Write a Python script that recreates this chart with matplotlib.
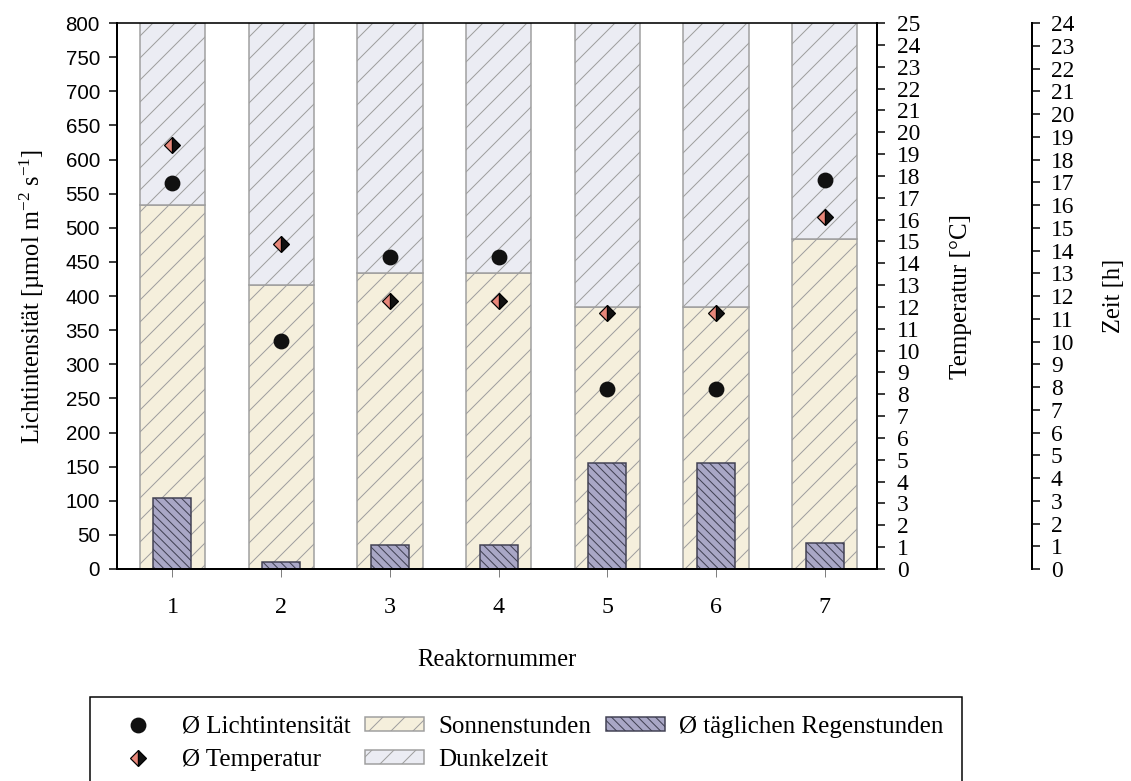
import matplotlib
matplotlib.use('Agg')
import matplotlib.pyplot as plt
import numpy as np

DPI = 132


def px(v):
    # pixel -> points at the chosen dpi
    return v * 72.0 / DPI


reaktor = [1, 2, 3, 4, 5, 6, 7]
sonnenstunden = [16.0, 12.5, 13.0, 13.0, 11.5, 11.5, 14.5]
dunkelzeit = [8.0, 11.5, 11.0, 11.0, 12.5, 12.5, 9.5]
regenstunden = [3.1, 0.3, 1.05, 1.05, 4.65, 4.65, 1.15]
licht = [565, 334, 457, 457, 264, 264, 570]
temperatur = [19.4, 14.9, 12.25, 12.25, 11.7, 11.7, 16.1]

plt.rcParams['font.family'] = ['Liberation Serif', 'DejaVu Serif']
plt.rcParams['mathtext.fontset'] = 'custom'
plt.rcParams['mathtext.rm'] = 'Liberation Serif'
plt.rcParams['mathtext.it'] = 'Liberation Serif:italic'
plt.rcParams['hatch.linewidth'] = px(1.0)

fig = plt.figure(figsize=(1131 / DPI, 781 / DPI), dpi=DPI)
ax = fig.add_axes([117 / 1131, 1 - 569 / 781, 760 / 1131, 546 / 781])
ax_h = ax.twinx()
ax_t = ax.twinx()

ax_h.set_zorder(0)
ax.set_zorder(1)
ax_t.set_zorder(2)
ax.patch.set_visible(False)
ax_t.patch.set_visible(False)

# bars in hours
b_sonne = ax_h.bar(reaktor, sonnenstunden, width=0.6, color='#F5EFDC',
                   edgecolor='#9E9E9E', hatch='//', linewidth=px(1.5))
b_dunkel = ax_h.bar(reaktor, dunkelzeit, bottom=sonnenstunden, width=0.6,
                    color='#EBECF3', edgecolor='#9E9E9E', hatch='//',
                    linewidth=px(1.5))
b_regen = ax_h.bar(reaktor, regenstunden, width=0.35, color='#A9A7C6',
                   edgecolor='#404052', hatch='\\\\\\\\\\', linewidth=px(1.5))

h_licht, = ax.plot(reaktor, licht, linestyle='none', marker='o',
                   color='#111111', ms=px(14))
h_temp, = ax_t.plot(reaktor, temperatur, linestyle='none', marker='D',
                    ms=px(12), fillstyle='left', markerfacecolor='#E8877A',
                    markerfacecoloralt='#111111', markeredgecolor='black',
                    markeredgewidth=px(1.2))

ax.set_xlim(0.49, 7.48)
ax.set_xticks(reaktor)
ax.set_ylim(0, 800)
ax.set_yticks(np.arange(0, 801, 50))
ax_t.set_ylim(0, 25)
ax_t.set_yticks(np.arange(0, 26, 1))
ax_h.set_ylim(0, 24)
ax_h.set_yticks(np.arange(0, 25, 1))

# spines
for s in ['left', 'bottom']:
    ax.spines[s].set_linewidth(px(2))
ax.spines['top'].set_linewidth(px(1.6))
ax.spines['right'].set_visible(False)
for s in ['left', 'bottom', 'top']:
    ax_t.spines[s].set_visible(False)
    ax_h.spines[s].set_visible(False)
ax_t.spines['right'].set_linewidth(px(2))
ax_h.spines['right'].set_linewidth(px(2))
ax_h.spines['right'].set_position(('outward', px(155)))

ax.tick_params(axis='y', direction='out', length=px(8), width=px(1.5),
               pad=px(9), labelsize=px(20.5), labelfontfamily='Liberation Sans')
ax.tick_params(axis='x', direction='out', length=px(8), width=px(1),
               color='#808080', pad=px(20), labelsize=px(24))
ax_t.tick_params(axis='y', direction='out', length=px(8), width=px(1.5),
                 pad=px(12), labelsize=px(23.5))
ax_h.tick_params(axis='y', direction='out', length=px(8), width=px(1.5),
                 pad=px(11), labelsize=px(23.5))

ax.set_ylabel('Lichtintensität [µmol m$^{-2}$ s$^{-1}$]', fontsize=px(24.5))
ax.yaxis.set_label_coords(-0.092, 0.5)
ax_t.set_ylabel('Temperatur [°C]', fontsize=px(25))
ax_t.yaxis.set_label_coords(1.096, 0.5)
ax_h.set_ylabel('Zeit [h]', fontsize=px(24.5))
ax_h.yaxis.set_label_coords(1.297, 0.5)
ax.set_xlabel('Reaktornummer', fontsize=px(24.5))
ax.xaxis.set_label_coords(0.5, -0.146)

leg = fig.legend(handles=[h_licht, h_temp, b_sonne, b_dunkel, b_regen],
                 labels=['Ø Lichtintensität', 'Ø Temperatur', 'Sonnenstunden',
                         'Dunkelzeit', 'Ø täglichen Regenstunden'],
                 ncol=3, loc='upper left',
                 bbox_to_anchor=(90 / 1131, 1 - 697 / 781),
                 frameon=True, fancybox=False, edgecolor='black', framealpha=1,
                 fontsize=px(25), handlelength=2.36, handleheight=0.5,
                 handletextpad=0.56, columnspacing=0.6, labelspacing=0.45,
                 borderpad=0.75, borderaxespad=0)
leg.get_frame().set_linewidth(px(1.5))

fig.savefig('out.png', dpi=DPI)
